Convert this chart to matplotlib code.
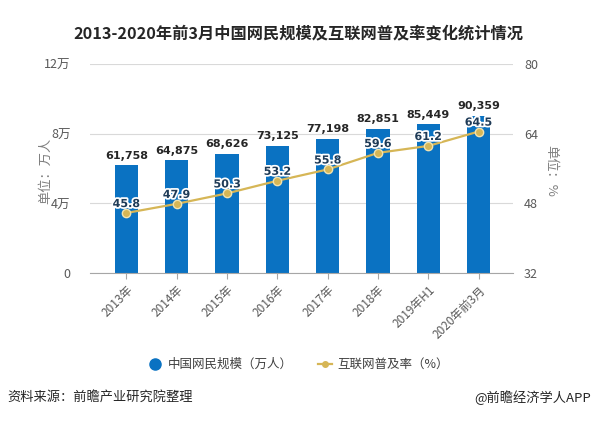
import numpy as np
import matplotlib
matplotlib.use("Agg")
import matplotlib.pyplot as plt
import matplotlib.patheffects as pe
from matplotlib.lines import Line2D

plt.rcParams['font.family'] = ['Noto Sans CJK SC', 'DejaVu Sans']

# Data
years = ['2013年', '2014年', '2015年', '2016年', '2017年', '2018年', '2019年H1', '2020年前3月']
netizens = [61758, 64875, 68626, 73125, 77198, 82851, 85449, 90359]
penetration = [45.8, 47.9, 50.3, 53.2, 55.8, 59.6, 61.2, 64.5]

bar_color = '#0A72C2'
line_color = '#D6B656'
grey_text = '#595959'

fig = plt.figure(figsize=(5.97, 4.30), dpi=100)
ax = fig.add_axes([0.151, 0.365, 0.708, 0.486])
ax2 = ax.twinx()

x = np.arange(len(years))
bars = ax.bar(x, netizens, width=0.46, color=bar_color, zorder=2)

ax.set_xlim(-0.72, 7.68)
ax.set_ylim(0, 120000)
ax.set_yticks([0, 40000, 80000, 120000])
ax.set_yticklabels(['0', '4万', '8万', '12万'])
ax.grid(axis='y', color='#D9D9D9', linewidth=0.8, zorder=0)
ax.set_axisbelow(True)

for s in ['top', 'right', 'left']:
    ax.spines[s].set_visible(False)
    ax2.spines[s].set_visible(False)
ax2.spines['bottom'].set_visible(False)
ax.spines['bottom'].set_color('#A6A6A6')

ax.tick_params(axis='y', length=0, labelsize=9, labelcolor=grey_text, pad=14)
ax.tick_params(axis='x', length=4, color='#A6A6A6', labelsize=8.5, labelcolor=grey_text)
ax.set_xticks(x)
ax.set_xticklabels(years, rotation=45, ha='right', rotation_mode='anchor')

ax2.set_ylim(32, 80)
ax2.set_yticks([32, 48, 64, 80])
ax2.tick_params(axis='y', length=0, labelsize=9, labelcolor=grey_text, pad=8)

ax2.plot(x, penetration, color=line_color, linewidth=1.6, marker='o', markersize=6,
         markerfacecolor=line_color, markeredgecolor='#F2E3B0', markeredgewidth=1, zorder=3)

for xi, v in zip(x, netizens):
    ax.text(xi, v + 2500, f'{v:,}', ha='center', va='bottom', fontsize=8,
            fontweight='bold', color='#262626', family='DejaVu Sans')

for xi, v in zip(x, penetration):
    ax2.text(xi, v + 0.9, f'{v}', ha='center', va='bottom', fontsize=8,
             fontweight='bold', color='#1F3B57', family='DejaVu Sans',
             path_effects=[pe.withStroke(linewidth=2.5, foreground='white')], zorder=4)

fig.text(0.077, 0.603, '单位：万人', rotation=90, ha='center', va='center',
         fontsize=9.5, color='#7F7F7F')
fig.text(0.922, 0.603, '单位：%', rotation=270, ha='center', va='center',
         fontsize=9.5, color='#7F7F7F')

fig.text(0.5, 0.922, '2013-2020年前3月中国网民规模及互联网普及率变化统计情况', ha='center',
         va='center', fontsize=11.7, fontweight='bold', color='#262626')

handles = [
    Line2D([], [], marker='o', linestyle='none', markersize=8, color=bar_color),
    Line2D([], [], marker='o', linestyle='-', markersize=4, color=line_color, linewidth=1.6),
]
fig.legend(handles, ['中国网民规模（万人）', '互联网普及率（%）'], loc='center',
           bbox_to_anchor=(0.5, 0.152), ncol=2, frameon=False, fontsize=9,
           handlelength=1.1, handletextpad=0.5, columnspacing=2.0, labelcolor='#404040')

fig.text(0.013, 0.076, '资料来源：前瞻产业研究院整理', ha='left', va='center',
         fontsize=9.5, color='#262626')
fig.text(0.99, 0.076, '@前瞻经济学人APP', ha='right', va='center',
         fontsize=9.5, color='#262626')

fig.savefig('out.png', dpi=100)
